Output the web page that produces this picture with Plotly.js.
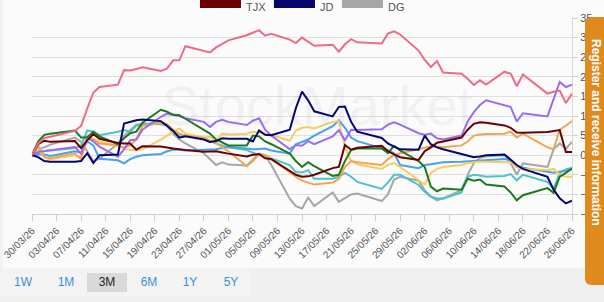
<!DOCTYPE html>
<html>
<head>
<meta charset="utf-8">
<script src="https://cdn.plot.ly/plotly-3.0.1.min.js"></script>
<style>
  html, body { margin: 0; padding: 0; background: #f0f0f0; width: 604px; height: 302px; overflow: hidden; font-family: "Liberation Sans", Arial, sans-serif; }
  #chart { position: absolute; left: 0; top: 0; width: 604px; height: 268px; background: #fbfbfb; }
  #edge { position: absolute; left: 0; top: 0; width: 3px; height: 268px; background: #f2f2f2; }
  #ranges { position: absolute; left: 0; top: 268px; width: 250px; height: 28px; background: #f3f3f3; }
  .rng { position: absolute; top: 5px; height: 19px; line-height: 19px; font-size: 12px; color: #3b8fdc; text-align: center; width: 40px; }
  .rng.on { background: #d9d9d9; color: #222; }
  #tab { position: absolute; left: 585px; top: 17px; width: 30px; height: 268px; background: #df8a1d; border-radius: 6px 0 0 6px; }
  #tab span { position: absolute; left: 4px; top: 22px; writing-mode: vertical-rl; color: #fff; font-weight: bold; font-size: 12px; white-space: nowrap; }
</style>
</head>
<body>
<div id="chart"></div>
<div id="edge"></div>
<div id="ranges">
  <div class="rng" style="left:3px">1W</div>
  <div class="rng" style="left:46px">1M</div>
  <div class="rng on" style="left:87px">3M</div>
  <div class="rng" style="left:129px">6M</div>
  <div class="rng" style="left:170px">1Y</div>
  <div class="rng" style="left:211px">5Y</div>
</div>
<div id="tab"><span>Register and receive information</span></div>
<script>
// Trading days shown on the 3M view
const dates = [
  '2026-03-30','2026-03-31','2026-04-01','2026-04-02',
  '2026-04-06','2026-04-07','2026-04-08','2026-04-09','2026-04-10',
  '2026-04-13','2026-04-14','2026-04-15','2026-04-16','2026-04-17',
  '2026-04-20','2026-04-21','2026-04-22','2026-04-23','2026-04-24',
  '2026-04-27','2026-04-28','2026-04-29','2026-04-30','2026-05-01',
  '2026-05-04','2026-05-05','2026-05-06','2026-05-07','2026-05-08',
  '2026-05-11','2026-05-12','2026-05-13','2026-05-14','2026-05-15',
  '2026-05-18','2026-05-19','2026-05-20','2026-05-21','2026-05-22',
  '2026-05-26','2026-05-27','2026-05-28','2026-05-29',
  '2026-06-01','2026-06-02','2026-06-03','2026-06-04','2026-06-05',
  '2026-06-08','2026-06-09','2026-06-10','2026-06-11','2026-06-12',
  '2026-06-15','2026-06-16','2026-06-17','2026-06-18',
  '2026-06-22','2026-06-23','2026-06-24','2026-06-25','2026-06-26'
];

// Percentage change since 30/03/26
const pinkSeries = [0,3,4.4,4.7, 6.2,7.5,11.9,16,17.4, 18.0,21.7,21.6,22.0,22.4, 21.5,22.1,24.2,24.2,27.8, 26.6,26.2,27.5,28.5,29.3, 30.6,31.3,31.9,30.5,31.0, 29.5,28.6,30.0,28.9,27.9, 28.2,26.4,28.3,29.6,28.8, 28.5,31.0,31.6,30.8, 26.7,24.3,22.5,24.0,21.1, 20.8,19.5,17.9,19.1,18.0, 21.3,20.8,17.6,20.6, 15.7,16.2,16.5,13.3,15.7];
const greenSeries = [0,3.5,5.2,5.5, 6.3,4.5,4.6,6.0,4.8, 2.8,4.3,5.6,6.0,8.3, 11.6,11.1,10.3,10.2,9.3, 6.5,5.5,4.0,3.2,2.5, 2.5,5.0,4.8,3.5,2.8, 0.4,-1.5,-3.0,-1.8,-2.8, -5.3,-5.0,-1.5,1.3,1.7, 1.7,0.5,2.4,1.2, -1.5,-3.0,-8.0,-9.2,-8.5, -8.8,-6.0,-6.5,-6.2,-7.5, -8.0,-9.5,-11.5,-10.2, -8.4,-9.6,-5.5,-4.5,-3.4];
const jdSeries = [0,-0.5,-1.5,-1.7, -1.7,-1.5,0.5,-2.0,0, 0.2,8.1,8.6,8.9,9.1, 8.7,7.5,6.2,4.5,4.8, 4.0,3.4,3.6,4.3,4.2, 4.2,3.5,6.3,5.2,5.1, 6.5,12,16.2,14.0,11.2, 9.9,12.3,12.4,8.5,6.0, 4.4,3.0,2.2,1.5, 1.4,5.0,2.8,2.0,1.5, 0.3,-0.2,-0.5,-0.3,0, 0.2,-1.2,-2.5,-3.5, -5.5,-8.8,-11.0,-12.3,-11.6];
const tjxSeries = [0,2.8,3.7,3.4, 3.6,1.8,3.8,5.4,4.2, 3.1,3.0,3.0,1.4,2.3, 2.2,1.9,1.7,1.5,1.3, 0.9,0.9,1.0,0.7,0.4, -0.3,0.1,0.3,-0.8,-1.0, -4.0,-5.0,-5.5,-5.4,-5.0, -3.3,-3.0,2.6,1.4,1.9, 2.4,1.0,0.2,-0.5, -1.2,1.0,2.0,3.2,3.5, 4.5,6.5,8.0,8.4,8.3, 7.6,7.0,5.8,5.7, 5.9,6.1,6.4,0.8,0.8];
const dgSeries = [0,1.5,2.0,2.7, 4.5,3.4,1.0,-1.5,-0.9, 3.0,5.0,6.5,7.8,8.1, 7.9,7.5,5.5,4.0,3.0, 0.5,-1.0,-2.5,-1.8,-2.4, -2.6,-1.0,0.4,0,-2.5, -11.1,-13.0,-13.6,-10.8,-13.0, -9.5,-11.9,-11.0,-10.0,-9.8, -11.7,-10.0,-6.2,-5.5, -6.5,-8.9,-10.5,-11.5,-11.0, -8.9,-5.0,-2.0,-0.7,-0.3, 0,-2.0,-5.0,-2.1, -3.0,1.5,3.0,1.7,3.4];
const purpleSeries = [0,0.8,1.1,1.3, 2.1,0.4,4.5,3.5,2.2, -0.4,1.5,3.8,4.0,6.5, 9.8,10.6,10.3,10.0,9.4, 8.5,7.2,8.5,9.0,8.5, 7.7,8.8,9.4,6.5,5.0, 1.5,2.6,2.4,3.6,2.8, 4.8,6.4,3.8,6.5,6.4, 6.6,7.8,8.4,7.8, 5.6,5.2,5.5,4.3,4.0, 5.0,8.6,11.0,12.8,14.0, 12.6,12.3,8.6,10.7, 9.9,14.5,18.7,17.4,18.0];
const blueSeries = [0,0.2,0.2,-0.2, 1.0,0.6,3.5,2.5,-0.9, -1.3,-2.1,-1.0,-0.4,0, 0.3,1.0,1.4,1.4,1.2, 1.3,1.4,1.5,1.8,2.1, 1.7,1.5,1.6,1.7,1.2, 0.4,2.8,3.5,4.0,5.0, 7.4,8.9,7.0,4.5,3.6, 1.8,1.3,0.5,-2.5, -3.3,-2.5,-2.3,-2.0,-1.8, -1.7,-1.6,-1.4,-1.3,-1.2, -1.0,-1.3,-3.0,-3.2, -4.2,-4.5,-4.2,-4.0,-3.5];
const tealSeries = [0,0.5,1.0,1.2, 1.8,2.5,6.3,6.0,5.1, 6.0,6.4,6.0,7.5,7.8, 8.4,7.5,5.8,5.3,5.0, 4.5,3.6,3.0,2.4,2.0, 1.3,0.7,0,0,-0.8, -2.5,-4.3,-4.4,-3.8,-6.0, -6.0,-5.5,-4.5,-5.5,-6.8, -8.6,-7.0,-5.0,-5.0, -7.6,-9.3,-10.6,-11.0,-11.1, -9.5,-5.5,-5.0,-5.2,-5.5, -5.3,-4.8,-6.4,-5.0, -6.8,-8.5,-4.5,-3.6,-3.2];
const yellowSeries = [0,1.5,-0.5,-1.0, 0,-0.5,5.0,4.0,3.5, 2.3,1.7,1.3,1.3,1.5, 4.0,5.1,6.0,6.8,5.5, 4.5,4.7,3.5,5.5,5.3, 5.5,6.0,5.8,5.5,5.2, 3.7,6.3,7.0,7.2,6.8, 8.5,8.7,2.0,-1.5,-2.3, -3.5,-2.5,-2.0,-3.0, -6.5,-7.5,-4.5,-3.5,-3.0, -2.5,-2.0,-1.8,-1.7,-1.7, -1.7,-1.8,-3.0,-3.5, -3.8,-3.5,-5.0,-5.5,-5.5];
const orangeSeries = [0,2.5,-0.5,-0.8, 0.5,-1.0,4.5,4.0,3.0, 2.5,2.0,2.5,4.0,7.5, 8.2,8.0,6.5,5.5,5.0, 4.3,3.7,3.2,2.0,1.0, -2.8,-1.5,0.3,0.0,-1.0, -4.5,-5.5,-6.5,-7.0,-7.5, -7.0,-6.0,-3.0,-1.5,-1.8, -2.5,-1.0,0,0.5, 1.5,2.0,2.3,2.2,2.0, 2.5,3.5,5.0,5.3,5.4, 5.5,6.0,4.5,5.5, 2.0,1.5,6.5,7.5,8.7];

const legendNames = ['TJX', 'JD', 'DG'];
const legendColors = ['#6b0000', '#06066e', '#a6a6a6'];

const series = [
  {y: dgSeries, color: '#a6a6a6', name: 'DG'},
  {y: tealSeries, color: '#4cc3c8', name: 'teal'},
  {y: blueSeries, color: '#44a3ef', name: 'blue'},
  {y: yellowSeries, color: '#f8cb62', name: 'yellow'},
  {y: orangeSeries, color: '#f2a451', name: 'orange'},
  {y: purpleSeries, color: '#9a6cf0', name: 'purple'},
  {y: greenSeries, color: '#1c7a1c', name: 'green'},
  {y: tjxSeries, color: '#6b0000', name: 'TJX'},
  {y: jdSeries, color: '#06066e', name: 'JD'},
  {y: pinkSeries, color: '#ef6a86', name: 'pink'}
];

const traces = series.map(s => ({
  type: 'scatter', mode: 'lines', x: dates, y: s.y, name: s.name,
  line: {color: s.color, width: 2}, hoverinfo: 'skip', showlegend: false
}));

// Legend swatches along the top edge
const shapes = [];
const annotations = [];
const swatchX = [0.311, 0.448, 0.574];
legendNames.forEach((n, i) => {
  shapes.push({type: 'rect', xref: 'paper', yref: 'paper', x0: swatchX[i], x1: swatchX[i] + 0.076,
    y0: 1.051, y1: 1.14, fillcolor: legendColors[i], line: {width: 0}});
  annotations.push({xref: 'paper', yref: 'paper', x: swatchX[i] + 0.083, y: 1.0918, xanchor: 'left', yanchor: 'top',
    text: n, showarrow: false, borderpad: 0, font: {size: 11, color: '#555'}});
});
// Faint watermark
annotations.push({xref: 'paper', yref: 'paper', x: 0.53, y: 0.555, text: 'StockMarket', showarrow: false,
  font: {size: 56, color: 'rgba(120,120,140,0.07)', family: 'Liberation Sans, Arial'}});

const layout = {
  width: 604, height: 268,
  margin: {l: 32, r: 32, t: 18, b: 54},
  paper_bgcolor: '#fbfbfb', plot_bgcolor: '#fbfbfb',
  font: {family: 'Liberation Sans, Arial, sans-serif', size: 10, color: '#555'},
  showlegend: false,
  xaxis: {
    type: 'date', range: ['2026-03-30', '2026-06-26'],
    tick0: '2026-03-30', dtick: 4 * 86400000, tickformat: '%d/%m/%y', tickangle: -45,
    showgrid: false, zeroline: false, showline: true, linecolor: '#d0d0d0', linewidth: 1,
    ticks: 'outside', ticklen: 6, tickcolor: '#d0d0d0', tickfont: {size: 10, color: '#555'}
  },
  yaxis: {
    side: 'right', range: [-15, 35], dtick: 5, tick0: 0,
    showgrid: true, gridcolor: '#e0e0e0', zeroline: false,
    showline: true, linecolor: '#d8d8d8', ticks: 'outside', ticklen: 5, tickcolor: '#d0d0d0',
    tickfont: {size: 11, color: '#555'}
  },
  shapes: shapes,
  annotations: annotations
};

Plotly.newPlot('chart', traces, layout, {displayModeBar: false, staticPlot: true});
</script>
</body>
</html>
